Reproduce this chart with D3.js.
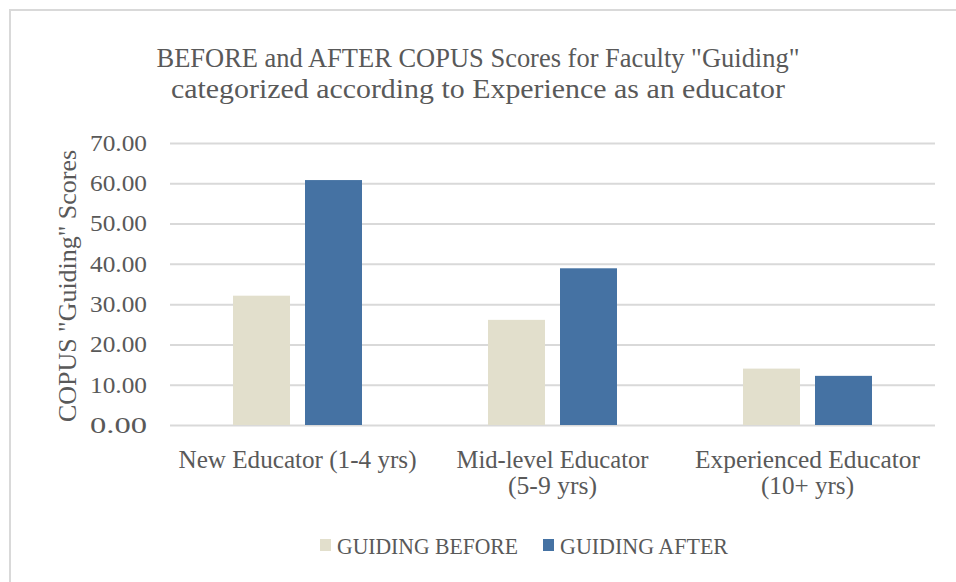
<!DOCTYPE html>
<html>
<head>
<meta charset="utf-8">
<script src="https://cdn.jsdelivr.net/npm/d3@7"></script>
<style>
  html, body { margin: 0; padding: 0; background: #ffffff; }
  svg { display: block; }
</style>
</head>
<body>
<svg id="chart" width="956" height="582"></svg>
<script>
const categories = [["New Educator (1-4 yrs)"], ["Mid-level Educator", "(5-9 yrs)"], ["Experienced Educator", "(10+ yrs)"]];
const categoryKeys = ["New Educator (1-4 yrs)", "Mid-level Educator (5-9 yrs)", "Experienced Educator (10+ yrs)"];
const seriesNames = ["GUIDING BEFORE", "GUIDING AFTER"];
const guidingBefore = [32.1, 26.1, 14.0];
const guidingAfter = [60.8, 38.9, 12.2];
const yTicks = [0, 10, 20, 30, 40, 50, 60, 70];
const titleLines = ["BEFORE and AFTER COPUS Scores for Faculty \"Guiding\"", "categorized according to Experience as an educator"];
const yAxisTitle = "COPUS \"Guiding\" Scores";

const colors = { "GUIDING BEFORE": "#e2dfcc", "GUIDING AFTER": "#4572a3" };
const textColor = "#595959";
const serif = "'Liberation Serif', 'DejaVu Serif', serif";

const svg = d3.select("#chart");

// outer border of chart area
svg.append("rect")
  .attr("x", 10).attr("y", 10).attr("width", 980).attr("height", 600)
  .attr("fill", "#ffffff").attr("stroke", "#d9d9d9").attr("stroke-width", 2);

const x0 = d3.scaleBand().domain(categoryKeys).range([170, 935])
  .paddingInner(126 / 255).paddingOuter(63 / 255);
const x1 = d3.scaleBand().domain(seriesNames).range([0, x0.bandwidth()])
  .paddingInner(0.2083).paddingOuter(0);
const y = d3.scaleLinear().domain([0, 70]).range([425, 143]);

// gridlines + tick labels
const yAxis = d3.axisLeft(y).tickValues(yTicks).tickSize(-765).tickFormat(d3.format(".2f")).tickPadding(23);
const gAxis = svg.append("g").attr("transform", "translate(170,0)").call(yAxis);
gAxis.select(".domain").remove();
gAxis.selectAll(".tick line").attr("stroke", "#d9d9d9").attr("stroke-width", 2);
gAxis.selectAll(".tick text")
  .attr("fill", textColor)
  .style("font-family", serif)
  .style("font-size", "23px")
  .attr("textLength", 57)
  .attr("lengthAdjust", "spacingAndGlyphs");

// bars
const rows = categoryKeys.map((k, i) => ({ key: k, values: [
  { s: seriesNames[0], v: guidingBefore[i] },
  { s: seriesNames[1], v: guidingAfter[i] }
]}));

const groups = svg.append("g").selectAll("g").data(rows).join("g")
  .attr("transform", d => `translate(${x0(d.key)},0)`);
groups.selectAll("rect").data(d => d.values).join("rect")
  .attr("x", d => x1(d.s))
  .attr("width", x1.bandwidth())
  .attr("y", d => y(d.v))
  .attr("height", d => y(0) - y(d.v))
  .attr("fill", d => colors[d.s]);

// category labels
const catWidths = [[238], [192, 89], [225, 93]];
categoryKeys.forEach((k, i) => {
  const cx = x0(k) + x0.bandwidth() / 2;
  categories[i].forEach((line, j) => {
    svg.append("text")
      .attr("x", cx).attr("y", 468 + j * 26)
      .attr("text-anchor", "middle")
      .attr("fill", textColor)
      .style("font-family", serif)
      .style("font-size", "25px")
      .attr("textLength", catWidths[i][j])
      .attr("lengthAdjust", "spacingAndGlyphs")
      .text(line);
  });
});

// title
const titleWidths = [643, 614];
titleLines.forEach((t, i) => {
  svg.append("text")
    .attr("x", 478).attr("y", 67 + i * 31)
    .attr("text-anchor", "middle")
    .attr("fill", textColor)
    .style("font-family", serif)
    .style("font-size", "28px")
    .attr("textLength", titleWidths[i])
    .attr("lengthAdjust", "spacingAndGlyphs")
    .text(t);
});

// y axis title
svg.append("text")
  .attr("transform", "translate(76,286) rotate(-90)")
  .attr("text-anchor", "middle")
  .attr("fill", textColor)
  .style("font-family", serif)
  .style("font-size", "25px")
  .attr("textLength", 272)
  .attr("lengthAdjust", "spacingAndGlyphs")
  .text(yAxisTitle);

// legend
const legendItems = [
  { name: seriesNames[0], sx: 320, tx: 337, w: 181 },
  { name: seriesNames[1], sx: 543, tx: 560, w: 168 }
];
legendItems.forEach(it => {
  svg.append("rect").attr("x", it.sx).attr("y", 539).attr("width", 11).attr("height", 12)
    .attr("fill", colors[it.name]);
  svg.append("text")
    .attr("x", it.tx).attr("y", 554)
    .attr("fill", textColor)
    .style("font-family", serif)
    .style("font-size", "24px")
    .attr("textLength", it.w)
    .attr("lengthAdjust", "spacingAndGlyphs")
    .text(it.name);
});
</script>
</body>
</html>
